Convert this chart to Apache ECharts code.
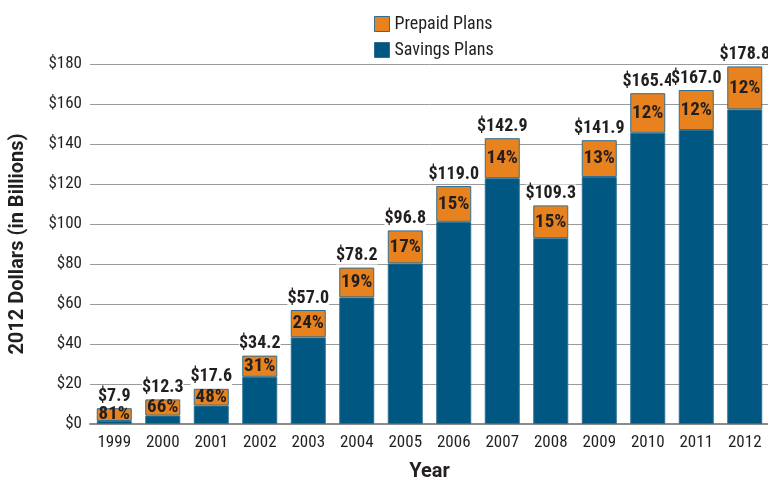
<!DOCTYPE html>
<html>
<head>
<meta charset="utf-8">
<script src="https://cdn.jsdelivr.net/npm/echarts@6/dist/echarts.min.js"></script>
<style>
  html, body { margin: 0; padding: 0; background: #fff; }
  #chart { width: 768px; height: 480px; }
</style>
</head>
<body>
<div id="chart"></div>
<script>
// Assets in 529 college savings programs, 2012 dollars (billions)
const years = ['1999','2000','2001','2002','2003','2004','2005','2006','2007','2008','2009','2010','2011','2012'];
const savingsPlans = [1.5, 4.2, 9.2, 23.6, 43.3, 63.3, 80.3, 101.1, 122.9, 92.9, 123.5, 145.6, 147.0, 157.3];
const prepaidPlans = [6.4, 8.1, 8.4, 10.6, 13.7, 14.9, 16.5, 17.9, 20.0, 16.4, 18.4, 19.8, 20.0, 21.5];
const yTicks = [0, 20, 40, 60, 80, 100, 120, 140, 160, 180];

const COND = '"Roboto Condensed", "Open Sans Condensed", sans-serif';
const WIDE = 'Roboto, "Liberation Sans", sans-serif';
const INK = '#231f20';
const ORANGE = '#e8821e';
const BLUE = '#005782';
const EDGE = '#2f6f93';

const totals = years.map((_, i) => savingsPlans[i] + prepaidPlans[i]);

const chart = echarts.init(document.getElementById('chart'), null, { renderer: 'canvas' });
chart.setOption({
  animation: false,
  textStyle: { fontFamily: COND },
  legend: {
    data: ['Prepaid Plans', 'Savings Plans'],
    orient: 'vertical',
    left: 369,
    top: 10,
    itemWidth: 15,
    itemHeight: 15,
    itemGap: 8,
    textStyle: { fontFamily: COND, fontSize: 18, color: INK },
    icon: 'rect',
    itemStyle: { borderColor: EDGE, borderWidth: 1 }
  },
  grid: { left: 90, top: 64, width: 679, height: 360, outerBoundsMode: 'none', containLabel: false },
  xAxis: {
    type: 'category',
    data: years,
    name: 'Year',
    nameLocation: 'middle',
    nameGap: 38,
    nameTextStyle: { fontFamily: WIDE, fontSize: 20, fontWeight: 'bold', color: INK },
    axisLine: { lineStyle: { color: '#8c8c8c', width: 2 } },
    axisTick: { show: false },
    axisLabel: { fontFamily: COND, fontSize: 17, color: INK, margin: 10 }
  },
  yAxis: {
    type: 'value',
    min: yTicks[0],
    max: yTicks[yTicks.length - 1],
    interval: 20,
    name: '2012 Dollars (in Billions)',
    nameLocation: 'middle',
    nameGap: 62,
    nameTextStyle: { fontFamily: WIDE, fontSize: 20, fontWeight: 'bold', color: INK },
    axisLine: { show: false },
    axisTick: { show: false },
    axisLabel: { fontFamily: COND, fontSize: 17, color: INK, margin: 8, formatter: v => '$' + v },
    splitLine: { lineStyle: { color: '#9a9a9a', width: 1 } }
  },
  series: [
    {
      name: 'Savings Plans',
      type: 'bar',
      stack: 'assets',
      barWidth: 35,
      data: savingsPlans,
      itemStyle: { color: BLUE, borderColor: EDGE, borderWidth: 1 }
    },
    {
      name: 'Prepaid Plans',
      type: 'bar',
      stack: 'assets',
      barWidth: 35,
      data: prepaidPlans,
      itemStyle: { color: ORANGE, borderColor: EDGE, borderWidth: 1 },
      label: {
        show: true,
        position: 'inside',
        fontFamily: COND,
        fontSize: 19,
        fontWeight: 'bold',
        color: INK,
        formatter: p => Math.round(prepaidPlans[p.dataIndex] / totals[p.dataIndex] * 100) + '%'
      }
    },
    {
      // zero-height cap on each stack that carries the total label
      name: 'Total',
      type: 'bar',
      stack: 'assets',
      barWidth: 35,
      data: years.map(() => 0),
      itemStyle: { color: 'transparent' },
      silent: true,
      label: {
        show: true,
        position: 'top',
        distance: 3,
        fontFamily: COND,
        fontSize: 18,
        fontWeight: 'bold',
        color: INK,
        backgroundColor: '#fff',
        padding: 0,
        formatter: p => '$' + totals[p.dataIndex].toFixed(1)
      }
    }
  ]
});
</script>
</body>
</html>
